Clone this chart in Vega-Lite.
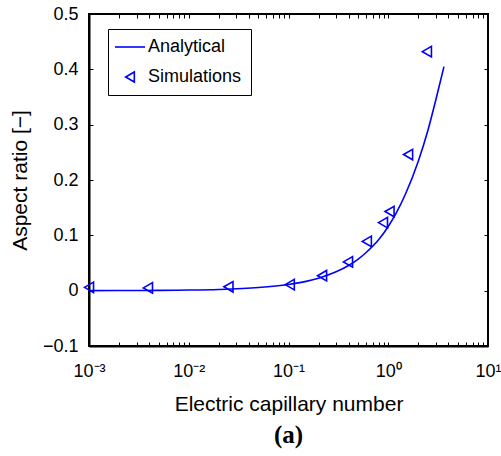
{
  "$schema": "https://vega.github.io/schema/vega-lite/v6.json",
  "width": 399,
  "height": 332,
  "autosize": {"type": "none"},
  "padding": {"left": 89, "top": 14, "right": 13, "bottom": 110},
  "background": "white",
  "title": {"text": "(a)", "orient": "bottom", "font": "Liberation Serif", "fontWeight": "bold", "fontSize": 25, "color": "black", "offset": 9, "anchor": "middle"},
  "config": {
    "view": {"stroke": "black", "strokeWidth": 2},
    "axis": {"labelFont": "Liberation Sans", "labelFontSize": 18, "labelColor": "black", "titleFont": "Liberation Sans", "titleFontSize": 21, "titleFontWeight": "normal", "titleColor": "black", "domainColor": "black", "domainWidth": 2, "tickColor": "black", "tickWidth": 1, "grid": false}
  },
  "datasets": {
    "analytical": [
      {"ca": 0.001, "ar": 0.0001, "series": "Analytical"},
      {"ca": 0.002, "ar": 0.0002, "series": "Analytical"},
      {"ca": 0.005, "ar": 0.0006, "series": "Analytical"},
      {"ca": 0.01, "ar": 0.0011, "series": "Analytical"},
      {"ca": 0.02, "ar": 0.0022, "series": "Analytical"},
      {"ca": 0.05, "ar": 0.0056, "series": "Analytical"},
      {"ca": 0.1, "ar": 0.0112, "series": "Analytical"},
      {"ca": 0.15, "ar": 0.0168, "series": "Analytical"},
      {"ca": 0.2, "ar": 0.0225, "series": "Analytical"},
      {"ca": 0.3, "ar": 0.034, "series": "Analytical"},
      {"ca": 0.4, "ar": 0.0455, "series": "Analytical"},
      {"ca": 0.5, "ar": 0.057, "series": "Analytical"},
      {"ca": 0.6, "ar": 0.069, "series": "Analytical"},
      {"ca": 0.8, "ar": 0.092, "series": "Analytical"},
      {"ca": 1.0, "ar": 0.116, "series": "Analytical"},
      {"ca": 1.2, "ar": 0.14, "series": "Analytical"},
      {"ca": 1.5, "ar": 0.176, "series": "Analytical"},
      {"ca": 2.0, "ar": 0.234, "series": "Analytical"},
      {"ca": 2.5, "ar": 0.29, "series": "Analytical"},
      {"ca": 3.0, "ar": 0.345, "series": "Analytical"},
      {"ca": 3.62, "ar": 0.405, "series": "Analytical"}
    ],
    "sim": [
      {"ca": 0.001, "ar": 0.006, "series": "Simulations"},
      {"ca": 0.0039, "ar": 0.005, "series": "Simulations"},
      {"ca": 0.025, "ar": 0.007, "series": "Simulations"},
      {"ca": 0.103, "ar": 0.011, "series": "Simulations"},
      {"ca": 0.217, "ar": 0.027, "series": "Simulations"},
      {"ca": 0.395, "ar": 0.052, "series": "Simulations"},
      {"ca": 0.61, "ar": 0.089, "series": "Simulations"},
      {"ca": 0.885, "ar": 0.123, "series": "Simulations"},
      {"ca": 1.03, "ar": 0.143, "series": "Simulations"},
      {"ca": 1.58, "ar": 0.246, "series": "Simulations"},
      {"ca": 2.44, "ar": 0.432, "series": "Simulations"}
    ]
  },
  "resolve": {"axis": {"x": "independent", "y": "independent"}},
  "layer": [
    {
      "data": {"name": "analytical"},
      "mark": {"type": "line", "color": "#0000ff", "strokeWidth": 1.6, "interpolate": "monotone"},
      "encoding": {
        "x": {"field": "ca", "type": "quantitative",
          "scale": {"type": "log", "domain": [0.001, 10], "nice": false},
          "axis": {"orient": "bottom", "title": "Electric capillary number", "titlePadding": 13,
            "values": [0.001,0.002,0.003,0.004,0.005,0.006,0.007,0.008,0.009,0.01,0.02,0.03,0.04,0.05,0.06,0.07,0.08,0.09,0.1,0.2,0.3,0.4,0.5,0.6,0.7,0.8,0.9,1,2,3,4,5,6,7,8,9,10],
            "labelExpr": "datum.value==0.001?'10⁻³':datum.value==0.01?'10⁻²':datum.value==0.1?'10⁻¹':datum.value==1?'10⁰':datum.value==10?'10¹':''",
            "tickSize": -4, "labelPadding": 20, "labelFlush": false, "labelOverlap": false}},
        "y": {"field": "ar", "type": "quantitative",
          "scale": {"domain": [-0.1, 0.5], "nice": false, "zero": false},
          "axis": {"orient": "left", "title": "Aspect ratio [−]", "titlePadding": 12,
            "values": [-0.1, 0, 0.1, 0.2, 0.3, 0.4, 0.5],
            "labelExpr": "datum.value==0?'0':format(datum.value,'.1f')",
            "tickSize": -4, "labelPadding": 15, "labelFlush": false, "labelOverlap": false}}
      }
    },
    {
      "data": {"name": "sim"},
      "mark": {"type": "point", "filled": false, "strokeWidth": 1.6, "color": "#0000ff", "opacity": 1, "size": 110},
      "encoding": {
        "x": {"field": "ca", "type": "quantitative",
          "scale": {"type": "log", "domain": [0.001, 10], "nice": false},
          "axis": {"orient": "top", "title": null, "labels": false, "domain": false,
            "values": [0.001,0.002,0.003,0.004,0.005,0.006,0.007,0.008,0.009,0.01,0.02,0.03,0.04,0.05,0.06,0.07,0.08,0.09,0.1,0.2,0.3,0.4,0.5,0.6,0.7,0.8,0.9,1,2,3,4,5,6,7,8,9,10],
            "tickSize": -4}},
        "y": {"field": "ar", "type": "quantitative",
          "scale": {"domain": [-0.1, 0.5], "nice": false, "zero": false},
          "axis": {"orient": "right", "title": null, "labels": false, "domain": false,
            "values": [-0.1, 0, 0.1, 0.2, 0.3, 0.4, 0.5], "tickSize": -4}},
        "shape": {"field": "series", "type": "nominal",
          "scale": {"domain": ["Analytical", "Simulations"], "range": ["M-3,0H3", "triangle-left"]},
          "legend": {"title": null, "orient": "none", "legendX": 19, "legendY": 15,
            "strokeColor": "black", "fillColor": "white",
            "padding": 9, "rowPadding": 12, "symbolOffset": 4, "labelOffset": 9,
            "labelFont": "Liberation Sans", "labelFontSize": 18, "labelColor": "black",
            "labelExpr": "datum.label + '\u00a0\u00a0\u00a0\u00a0'",
            "symbolStrokeColor": "#0000ff", "symbolFillColor": "transparent", "symbolStrokeWidth": 1.6,
            "symbolSize": 100,
            "encode": {
              "legend": {"update": {"strokeWidth": {"value": 2}}}}}}
      }
    }
  ]
}
